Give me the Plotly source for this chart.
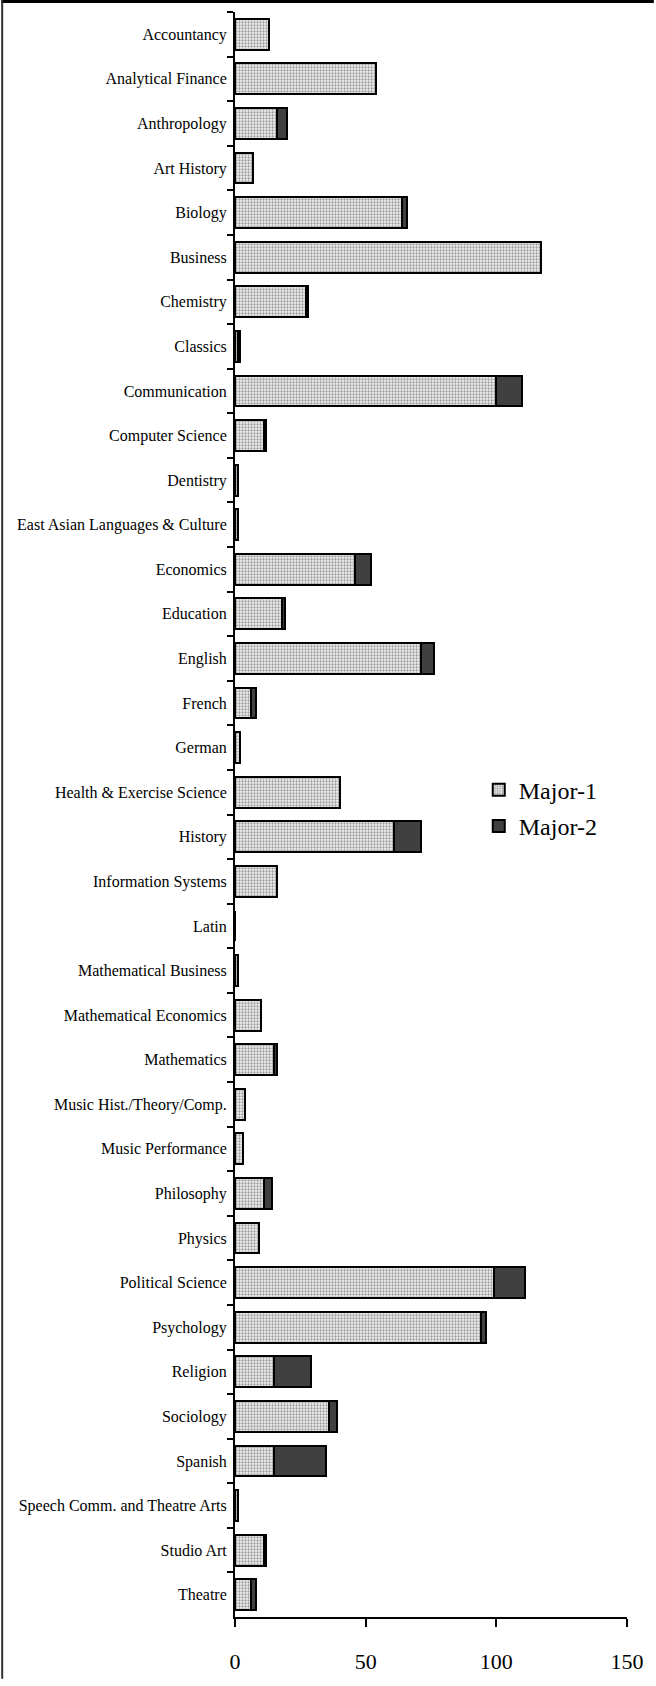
import plotly.graph_objects as go

categories = [
    "Accountancy", "Analytical Finance", "Anthropology", "Art History", "Biology",
    "Business", "Chemistry", "Classics", "Communication", "Computer Science",
    "Dentistry", "East Asian Languages & Culture", "Economics", "Education",
    "English", "French", "German", "Health & Exercise Science", "History",
    "Information Systems", "Latin", "Mathematical Business", "Mathematical Economics",
    "Mathematics", "Music Hist./Theory/Comp.", "Music Performance", "Philosophy",
    "Physics", "Political Science", "Psychology", "Religion", "Sociology", "Spanish",
    "Speech Comm. and Theatre Arts", "Studio Art", "Theatre",
]
major1 = [13, 54, 16, 7, 64, 117, 27, 1, 100, 11, 1, 1, 46, 18, 71, 6, 2, 40, 61, 16,
          0, 1, 10, 15, 4, 3, 11, 9, 99, 94, 15, 36, 15, 1, 11, 6]
major2 = [0, 0, 4, 0, 2, 0, 1, 1, 10, 1, 0, 0, 6, 1, 5, 2, 0, 0, 10, 0,
          0, 0, 0, 1, 0, 0, 3, 0, 12, 2, 14, 3, 20, 0, 1, 2]
x_ticks = [0, 50, 100, 150]

W, H = 656, 1686
ML, MR, MT, MB = 235, 27, 12, 62
PW, PH = W - ML - MR, H - MT - MB


def xp(px):
    return (px - ML) / PW


def yp(py):
    return (H - MB - py) / PH


FONT = "Liberation Serif, Times New Roman, serif"

fig = go.Figure()
fig.add_trace(go.Bar(
    y=categories, x=major1, orientation="h", name="Major-1",
    legendgroup="a",
    marker=dict(
        color="white",
        line=dict(color="black", width=2),
        pattern=dict(shape=".", fgcolor="#444444", bgcolor="#f2f2f2", size=3, solidity=0.45),
    ),
))
fig.add_trace(go.Bar(
    y=categories, x=major2, orientation="h", name="Major-2",
    legendgroup="b",
    marker=dict(color="#404040", line=dict(color="black", width=2)),
))

fig.update_layout(
    width=W, height=H,
    margin=dict(l=ML, r=MR, t=MT, b=MB, pad=0),
    barmode="stack",
    bargap=0.31,
    paper_bgcolor="white",
    plot_bgcolor="white",
    font=dict(family=FONT, color="black"),
    showlegend=True,
    legend=dict(
        x=xp(480), y=yp(771), xanchor="left", yanchor="top",
        font=dict(family=FONT, size=24, color="black"),
        bgcolor="rgba(0,0,0,0)", borderwidth=0,
        traceorder="grouped", tracegroupgap=2,
        itemclick=False,
    ),
    xaxis=dict(
        range=[0, 150], tickvals=x_ticks, ticktext=[str(v) for v in x_ticks],
        showgrid=False, zeroline=False,
        showline=True, linecolor="black", linewidth=2,
        ticks="outside", ticklen=8, tickwidth=2, tickcolor="black",
        tickfont=dict(family=FONT, size=22, color="black"),
        ticklabelstandoff=16,
        fixedrange=True,
    ),
    yaxis=dict(
        type="category", autorange="reversed",
        showgrid=False, zeroline=False,
        showline=True, linecolor="black", linewidth=2,
        ticks="outside", ticklen=6, tickwidth=2, tickcolor="black",
        tickson="boundaries",
        tickfont=dict(family=FONT, size=16, color="black"),
        ticklabelstandoff=3,
        fixedrange=True,
    ),
    shapes=[
        dict(type="line", xref="paper", yref="paper",
             x0=xp(0), x1=xp(W), y0=yp(1.5), y1=yp(1.5),
             line=dict(color="black", width=3)),
        dict(type="line", xref="paper", yref="paper",
             x0=xp(1), x1=xp(1), y0=yp(0), y1=yp(H),
             line=dict(color="#333333", width=2)),
    ],
)

fig.write_html(
    "out.html",
    config={"displayModeBar": False},
    post_script="document.body.style.margin='0';document.body.style.overflow='hidden';",
)
